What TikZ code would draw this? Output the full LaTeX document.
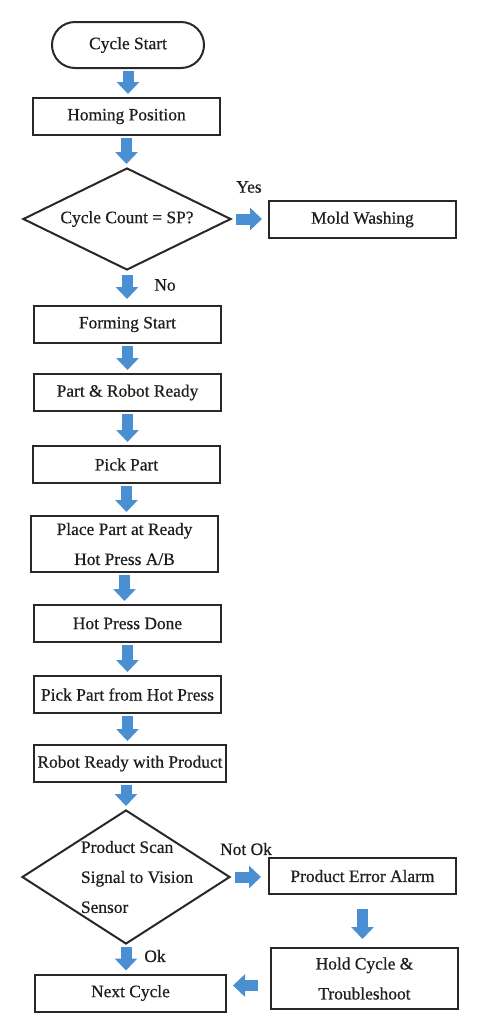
\documentclass[tikz,border=0pt]{standalone}
\usepackage{fontspec}
\setmainfont{Liberation Serif}
\newfontfamily\heavy{Liberation Serif}[FakeBold=0.6]
\usetikzlibrary{shapes.geometric,arrows.meta}
\definecolor{arrowblue}{RGB}{74,143,210}
\definecolor{edgegray}{RGB}{40,40,40}
\definecolor{txtgray}{RGB}{30,30,30}
\begin{document}
\begin{tikzpicture}[x=0.5pt,y=-0.5pt,
  box/.style={draw=edgegray, line width=1pt, minimum width=93.5pt, minimum height=18.5pt,
    inner sep=0pt, font=\heavy\fontsize{8.7}{15}\selectfont, text=txtgray, align=center},
  term/.style={box, rounded corners=11.5pt, minimum width=76pt, minimum height=23pt},
  dec/.style={draw=edgegray, line width=1pt, diamond, minimum width=104pt, minimum height=51pt,
    inner sep=0pt, font=\heavy\fontsize{8.7}{15}\selectfont, text=txtgray},
  lbl/.style={font=\heavy\fontsize{8.7}{15}\selectfont, text=txtgray, inner sep=0pt},
  barrow/.style={draw=arrowblue, line width=5.5pt, -{Triangle[width=11pt,length=6pt]},
    shorten <=1pt, shorten >=1.5pt}]
\useasboundingbox (0,0) rectangle (482,1024);

\node[term] (start) at (128,45) {Cycle Start};
\node[box] (home) at (126.5,116.5) {Homing Position};
\node[dec] (d1) at (127,219) {\makebox[0pt]{Cycle Count = SP?}};
\node[box] (wash) at (362.5,219.5) {Mold Washing};
\node[box] (form) at (127.5,324.5) {Forming Start};
\node[box] (ready) at (127.5,392.5) {Part \& Robot Ready};
\node[box] (pick) at (126.5,464.5) {Pick Part};
\node[box, minimum height=28pt] (place) at (124.5,544) {Place Part at Ready\\Hot Press A/B};
\node[box] (done) at (127.5,623.5) {Hot Press Done};
\node[box] (pickhp) at (127.5,694.5) {Pick Part from Hot Press};
\node[box, minimum width=96pt] (rrp) at (130,763.5) {Robot Ready with Product};
\node[dec, minimum height=67pt] (d2) at (126,877)
  {\smash{\makebox[0pt]{\hspace{11pt}\raisebox{-2.2pt}{\begin{tabular}{@{}l@{}}Product Scan\\Signal to Vision\\Sensor\end{tabular}}}}};
\node[box, minimum height=18pt] (alarm) at (362.5,876) {Product Error Alarm};
\node[box, minimum height=30.5pt] (hold) at (364.5,978.5) {Hold Cycle \&\\Troubleshoot};
\node[box, minimum width=95.5pt] (next) at (130.5,993) {Next Cycle};

\node[lbl] (yes) at (249,187) {Yes};
\node[lbl] (no) at (165,285) {No};
\node[lbl] (notok) at (246,849) {Not Ok};
\node[lbl] (ok) at (155,956) {Ok};

\draw[barrow] (start.south) -- (start.south |- home.north);
\draw[barrow] (home.south) -- (home.south |- d1.north);
\draw[barrow, shorten <=2pt, shorten >=3pt] (d1.east) -- (d1.east -| wash.west);
\draw[barrow, shorten <=2pt, shorten >=3pt] (d1.south) -- (d1.south |- form.north);
\draw[barrow] (form.south) -- (form.south |- ready.north);
\draw[barrow] (ready.south) -- (ready.south |- pick.north);
\draw[barrow] (pick.south) -- (pick.south |- place.north);
\draw[barrow] (place.south) -- (place.south |- done.north);
\draw[barrow] (done.south) -- (done.south |- pickhp.north);
\draw[barrow] (pickhp.south) -- (pickhp.south |- rrp.north);
\draw[barrow] (rrp.south -| d2.north) -- (d2.north);
\draw[barrow, shorten <=2pt, shorten >=3.5pt] (d2.east) -- (d2.east -| alarm.west);
\draw[barrow, shorten <=7pt, shorten >=4pt] (alarm.south) -- (alarm.south |- hold.north);
\draw[barrow] (d2.south) -- (d2.south |- next.north);
\draw[barrow, shorten <=6pt, shorten >=3pt] ([yshift=-3.5pt]hold.west) -- ([yshift=-3.5pt]hold.west -| next.east);
\end{tikzpicture}
\end{document}
